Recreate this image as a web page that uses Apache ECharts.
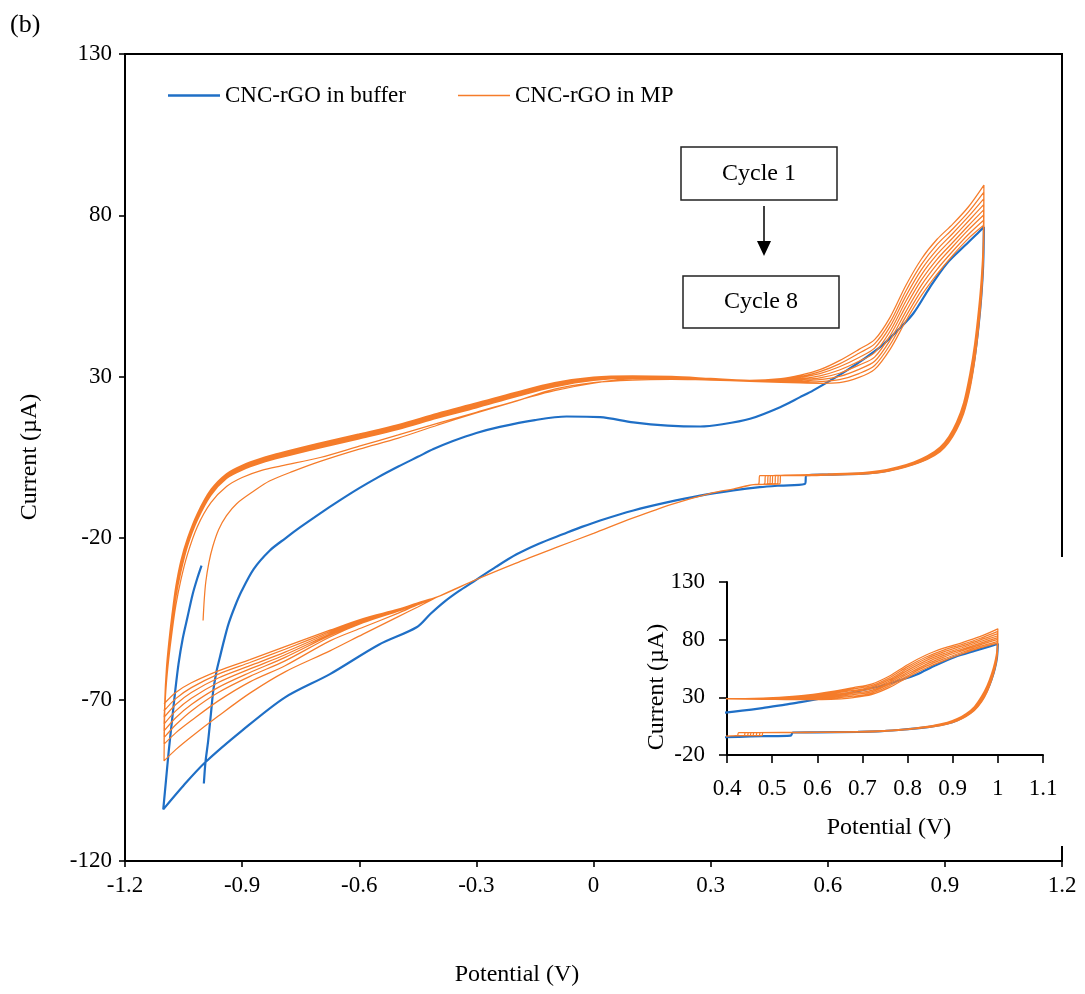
<!DOCTYPE html>
<html>
<head>
<meta charset="utf-8">
<script src="https://cdn.jsdelivr.net/npm/echarts@6/dist/echarts.min.js"></script>
<style>
  html, body { margin: 0; padding: 0; background: #fff; }
  #chart { width: 1085px; height: 994px; }
</style>
</head>
<body>
<div id="chart"></div>
<script>
// ---------- tick labels ----------
const potentialTicks = ['-1.2', '-0.9', '-0.6', '-0.3', '0', '0.3', '0.6', '0.9', '1.2'];
const currentTicks = ['-120', '-70', '-20', '30', '80', '130'];
const insetPotentialTicks = ['0.4', '0.5', '0.6', '0.7', '0.8', '0.9', '1', '1.1'];
const insetCurrentTicks = ['-20', '30', '80', '130'];

// ---------- CNC-rGO in buffer: one scan [potential V, current µA] ----------
// anodic sweep from -1.0 V to +1.0 V
const bufferForward = [
  [-0.998, -96], [-0.994, -89.5], [-0.987, -82.8], [-0.980, -74.5], [-0.974, -67.3],
  [-0.966, -61.5], [-0.957, -56.9], [-0.946, -51.5], [-0.935, -46.6], [-0.918, -41],
  [-0.901, -36.3], [-0.870, -29.5], [-0.829, -23.8], [-0.790, -20.1], [-0.751, -16.6],
  [-0.700, -12.3], [-0.650, -8.3], [-0.600, -4.5], [-0.550, -1.0], [-0.500, 2.2],
  [-0.450, 5.2], [-0.410, 7.6], [-0.360, 10.1], [-0.300, 12.6], [-0.240, 14.5],
  [-0.150, 16.6], [-0.069, 17.7], [0.017, 17.5], [0.102, 15.9], [0.190, 14.9],
  [0.273, 14.6], [0.330, 15.3], [0.401, 17.0], [0.478, 20.6], [0.529, 23.7],
  [0.563, 25.8], [0.649, 32.0], [0.734, 39.2], [0.780, 44.5], [0.819, 49.6],
  [0.862, 57.8], [0.905, 65.1], [0.950, 70.5], [0.980, 74], [1.000, 76.4]
];
// cathodic sweep back to -1.1 V
const bufferReverse = [
  [0.998, 64.5], [0.993, 54.5], [0.986, 45.5], [0.976, 35.8], [0.964, 27.6], [0.948, 19.7],
  [0.930, 14.4], [0.910, 10.2], [0.888, 7.3], [0.855, 4.8], [0.820, 3.1], [0.780, 1.7],
  [0.734, 0.5], [0.690, 0.0], [0.600, -0.3], [0.546, -0.5], [0.541, -3.2], [0.478, -3.7],
  [0.426, -4.2], [0.358, -5.2], [0.273, -6.8], [0.188, -8.9], [0.102, -11.4], [0.017, -14.5],
  [-0.030, -16.5], [-0.077, -18.7], [-0.140, -21.7], [-0.197, -25.0], [-0.250, -28.9],
  [-0.308, -33.5], [-0.345, -36.4], [-0.380, -39.5], [-0.418, -43.5], [-0.453, -47.6],
  [-0.550, -53.0], [-0.675, -62.1], [-0.790, -69.3], [-0.901, -79.7], [-0.995, -89.5],
  [-1.050, -96.6], [-1.102, -104]
];
// closing sweep from -1.1 V up to -1.0 V
const bufferReturn = [
  [-1.095, -95], [-1.088, -86], [-1.080, -77], [-1.072, -68], [-1.063, -59],
  [-1.052, -51], [-1.040, -44.5], [-1.027, -37.5], [-1.015, -32.5], [-1.004, -28.5]
];

// ---------- CNC-rGO in MP: eight consecutive cycles ----------
// cycle 1 opens at -1.0 V
const mpOpening = [
  [-1.0, -45.5], [-0.997, -39], [-0.993, -33.5], [-0.985, -27.5], [-0.975, -22.5],
  [-0.96, -17.3], [-0.94, -13], [-0.914, -9.3], [-0.87, -5.4], [-0.83, -2.3],
  [-0.77, 0.7], [-0.7, 3.8], [-0.6, 7.6], [-0.5, 11.0], [-0.4, 15.0], [-0.3, 18.8],
  [-0.2, 22.4], [-0.1, 26.2], [0, 28.2], [0.1, 29.0], [0.2, 29.2], [0.3, 29.0], [0.4, 28.9]
];
// anodic rise from -1.1 V, cycles 2 to 8
const mpRisePotential = [-1.098, -1.094, -1.088, -1.08, -1.07, -1.057, -1.04, -1.015, -0.98, -0.94,
  -0.9, -0.85, -0.8, -0.7, -0.6, -0.5, -0.4, -0.3, -0.2, -0.1, 0, 0.1, 0.2, 0.3, 0.4];
const mpRiseCurrent = [
  [-73, -65, -57.5, -49.5, -41, -33, -25, -16.5, -9, -4, -1.2, 1.0, 2.4, 5.0, 8.5, 12.0, 15.6, 19.0, 22.5, 25.7, 28.0, 29.4, 29.6, 29.2, 28.7],
  [-70, -60.5, -52.5, -44, -35, -27, -20, -12.4, -4.9, 0.0, 2.6, 4.8, 6.5, 9.5, 12.3, 15.2, 18.7, 21.9, 25.2, 28.2, 29.9, 30.3, 30.1, 29.5, 28.9],
  [-70.5, -61.3, -53.3, -44.8, -35.8, -27.8, -20.5, -12.8, -5.2, -0.3, 2.3, 4.5, 6.2, 9.2, 12.0, 14.9, 18.4, 21.6, 25.0, 28.0, 29.7, 30.2, 30.0, 29.4, 28.9],
  [-71, -62, -54, -45.5, -36.5, -28.5, -21, -13.2, -5.6, -0.6, 2.0, 4.2, 5.9, 8.9, 11.7, 14.6, 18.1, 21.3, 24.7, 27.7, 29.5, 30.0, 29.8, 29.3, 28.8],
  [-71.5, -62.7, -54.7, -46.2, -37.2, -29.2, -21.5, -13.6, -6.0, -0.9, 1.7, 3.9, 5.6, 8.6, 11.4, 14.3, 17.8, 21.0, 24.4, 27.4, 29.3, 29.8, 29.7, 29.2, 28.8],
  [-72, -63.3, -55.3, -46.8, -37.8, -29.8, -22, -14, -6.3, -1.2, 1.4, 3.6, 5.3, 8.3, 11.1, 14.0, 17.5, 20.7, 24.1, 27.2, 29.1, 29.7, 29.6, 29.1, 28.7],
  [-72.5, -64, -56, -47.5, -38.5, -30.5, -22.5, -14.5, -6.7, -1.5, 1.1, 3.3, 5.0, 8.0, 10.8, 13.7, 17.2, 20.4, 23.8, 26.9, 28.9, 29.6, 29.5, 29.0, 28.6]
];
// oxidation wave up to the +1.0 V turn, cycles 1 to 8
const mpUpperPotential = [0.48, 0.53, 0.58, 0.63, 0.68, 0.72, 0.76, 0.8, 0.84, 0.88, 0.92, 0.96, 1.0];
const mpUpperCurrent = [
  [29.4, 30.5, 32.2, 35.0, 38.5, 41.5, 48.5, 58.3, 66.5, 72.6, 77.3, 82.6, 89.4],
  [29.2, 30.1, 31.6, 34.0, 37.3, 40.2, 47.0, 56.6, 64.8, 71.0, 75.8, 81.0, 87.2],
  [29.0, 29.8, 31.0, 33.1, 36.0, 38.9, 45.6, 55.0, 63.2, 69.4, 74.4, 79.6, 85.2],
  [28.8, 29.4, 30.3, 32.1, 34.8, 37.5, 44.2, 53.4, 61.6, 67.9, 73.0, 78.2, 83.4],
  [28.7, 29.1, 29.7, 31.1, 33.6, 36.1, 42.8, 51.8, 60.0, 66.4, 71.6, 76.8, 81.8],
  [28.5, 28.7, 29.1, 30.1, 32.3, 34.8, 41.4, 50.2, 58.4, 64.9, 70.3, 75.5, 80.2],
  [28.4, 28.4, 28.5, 29.1, 31.0, 33.5, 40.0, 48.7, 56.8, 63.3, 68.9, 74.1, 78.6],
  [28.3, 28.1, 28.0, 28.2, 29.8, 32.3, 38.6, 47.3, 55.2, 61.8, 67.6, 72.8, 77.0]
];
// current drop after the turn
const mpDropPotential = [0.998, 0.993, 0.986, 0.976, 0.964, 0.948, 0.93, 0.91, 0.888, 0.855, 0.82, 0.78, 0.734, 0.69, 0.6, 0.55];
const mpDropCurrent = [
  [71, 60, 50.5, 40, 31, 22, 16, 11.5, 8.3, 5.5, 3.6, 2.1, 0.9, 0.35, -0.1, -0.3],
  [69.5, 58.8, 49.4, 39.0, 30.2, 21.4, 15.6, 11.2, 8.0, 5.3, 3.4, 2.0, 0.8, 0.25, -0.15, -0.35],
  [68.3, 57.8, 48.5, 38.2, 29.5, 20.8, 15.2, 10.9, 7.8, 5.1, 3.3, 1.9, 0.7, 0.15, -0.2, -0.4],
  [67.2, 56.9, 47.6, 37.4, 28.8, 20.3, 14.8, 10.6, 7.6, 5.0, 3.2, 1.8, 0.6, 0.1, -0.25, -0.45],
  [66.2, 56.0, 46.8, 36.6, 28.1, 19.8, 14.5, 10.3, 7.4, 4.8, 3.1, 1.7, 0.5, 0.0, -0.3, -0.5],
  [65.3, 55.2, 46.0, 35.9, 27.4, 19.3, 14.1, 10.0, 7.2, 4.7, 3.0, 1.6, 0.4, -0.05, -0.35, -0.55],
  [64.5, 54.5, 45.3, 35.2, 26.7, 18.9, 13.8, 9.8, 7.0, 4.5, 2.9, 1.5, 0.35, -0.1, -0.4, -0.6],
  [63.8, 53.8, 44.6, 34.5, 26.0, 18.5, 13.5, 9.6, 6.8, 4.4, 2.8, 1.4, 0.3, -0.15, -0.45, -0.65]
];
// small current step on the cathodic sweep
const mpStepStart = [0.48, 0.474, 0.467, 0.46, 0.454, 0.448, 0.441, 0.426];
const mpStepEnd = [0.477, 0.471, 0.464, 0.457, 0.451, 0.445, 0.438, 0.423];
const mpStepCurrent = [-0.6, -3.2];
// shared cathodic sweep
const mpMidPotential = [0.41, 0.36, 0.3, 0.2, 0.1, 0.0, -0.1, -0.2, -0.3, -0.4];
const mpMidCurrent = [-3.4, -4.7, -6.1, -9.5, -13.8, -18.5, -23.1, -27.8, -32.8, -38.2];
// reduction tail down to -1.1 V, cycles 1 to 8
const mpTailPotential = [-0.45, -0.5, -0.59, -0.675, -0.79, -0.88, -0.961, -1.03, -1.07, -1.1];
const mpTailCurrent = [
  [-41.3, -44.3, -49.7, -54.9, -61.4, -68.0, -75.1, -81.5, -85.5, -89.0],
  [-40.6, -43.2, -47.6, -51.8, -59.5, -64.5, -70.4, -76.5, -80.3, -83.8],
  [-40.5, -42.6, -46.2, -50.6, -58.0, -62.8, -67.8, -73.5, -77.8, -81.8],
  [-40.4, -42.4, -45.9, -50.1, -56.9, -61.6, -66.2, -71.5, -75.6, -79.7],
  [-40.3, -42.3, -45.6, -49.7, -56.1, -60.5, -64.7, -69.6, -73.5, -77.6],
  [-40.2, -42.2, -45.3, -49.3, -55.3, -59.5, -63.3, -67.8, -71.5, -75.5],
  [-40.1, -42.1, -45.1, -48.9, -54.4, -58.5, -62.1, -66.3, -69.7, -73.5],
  [-40.0, -42.0, -44.9, -48.5, -53.6, -57.6, -61.1, -64.8, -67.8, -71.3]
];

// ---------- assemble scans ----------
const bufferScan = bufferForward.concat(bufferReverse, bufferReturn);

const mpScan = [];
for (let c = 0; c < mpUpperCurrent.length; c++) {
  if (c === 0) {
    mpOpening.forEach(p => mpScan.push(p));
  } else {
    mpRisePotential.forEach((v, i) => mpScan.push([v, mpRiseCurrent[c - 1][i]]));
  }
  mpUpperPotential.forEach((v, i) => mpScan.push([v, mpUpperCurrent[c][i]]));
  mpDropPotential.forEach((v, i) => mpScan.push([v, mpDropCurrent[c][i]]));
  mpScan.push([mpStepStart[c], mpStepCurrent[0]]);
  mpScan.push([mpStepEnd[c], mpStepCurrent[1]]);
  mpMidPotential.forEach((v, i) => mpScan.push([v, mpMidCurrent[i]]));
  mpTailPotential.forEach((v, i) => mpScan.push([v, mpTailCurrent[c][i]]));
}

// ---------- styling ----------
const FONT = '"Liberation Serif", "Times New Roman", serif';
const BLUE = '#1f6fc6';
const ORANGE = '#f57c2a';
const LABEL = { fontFamily: FONT, fontSize: 23, color: '#000' };
const TITLE_FONT = '24px ' + FONT;

function tickFormatter(labels, min, step) {
  return v => labels[Math.round((v - min) / step)];
}

function valueAxis(gridIndex, min, max, step, labels, margin, tickLen, z) {
  return {
    type: 'value', gridIndex, min, max, interval: step, z,
    axisLine: { show: true, onZero: false, lineStyle: { color: '#000', width: 2 } },
    axisTick: { show: true, inside: false, length: tickLen, lineStyle: { color: '#000', width: 1.6 } },
    axisLabel: Object.assign({ margin, showMinLabel: true, showMaxLabel: true,
      formatter: tickFormatter(labels, min, step) }, LABEL),
    splitLine: { show: false }
  };
}

function scanSeries(name, data, color, width, axisIndex, z) {
  return {
    type: 'line', name, data,
    xAxisIndex: axisIndex, yAxisIndex: axisIndex,
    symbol: 'none', showSymbol: false, smooth: 0.3, clip: true, silent: true,
    lineStyle: { color, width }, itemStyle: { color }, z
  };
}

const chart = echarts.init(document.getElementById('chart'), null, { renderer: 'canvas' });

chart.setOption({
  animation: false,
  backgroundColor: '#fff',
  grid: [
    { left: 125, top: 54, width: 937, height: 807, show: true, borderColor: '#000', borderWidth: 2,
      backgroundColor: 'transparent', containLabel: false, outerBoundsMode: 'none' },
    { left: 727, top: 582, width: 316, height: 173, show: false, containLabel: false, outerBoundsMode: 'none' }
  ],
  xAxis: [
    valueAxis(0, -1.2, 1.2, 0.3, potentialTicks, 13, 6, 0),
    valueAxis(1, 0.4, 1.1, 0.1, insetPotentialTicks, 22, 8, 11)
  ],
  yAxis: [
    valueAxis(0, -120, 130, 50, currentTicks, 13, 6, 0),
    valueAxis(1, -20, 130, 50, insetCurrentTicks, 22, 8, 11)
  ],
  legend: {
    left: 168, top: 84, padding: 0, itemWidth: 52, itemHeight: 20, itemGap: 52,
    selectedMode: false,
    textStyle: LABEL,
    data: [
      { name: 'CNC-rGO in buffer', icon: 'path://M0,0H52V2.4H0Z' },
      { name: 'CNC-rGO in MP', icon: 'path://M0,0H52V1.3H0Z' }
    ]
  },
  series: [
    scanSeries('CNC-rGO in buffer', bufferScan, BLUE, 2.2, 0, 2),
    scanSeries('CNC-rGO in MP', mpScan, ORANGE, 1.25, 0, 3),
    scanSeries('CNC-rGO in buffer', bufferScan, BLUE, 2.2, 1, 12),
    scanSeries('CNC-rGO in MP', mpScan, ORANGE, 1.25, 1, 13)
  ],
  graphic: [
    // white panel behind the inset
    { type: 'rect', z: 10, silent: true, shape: { x: 630, y: 557, width: 455, height: 289 }, style: { fill: '#fff' } },
    { type: 'text', z: 20, x: 10, y: 12, style: { text: '(b)', font: '26px ' + FONT, fill: '#000' } },
    { type: 'text', z: 20, x: 30, y: 457, rotation: Math.PI / 2,
      style: { text: 'Current (µA)', font: TITLE_FONT, fill: '#000', align: 'center', verticalAlign: 'middle' } },
    { type: 'text', z: 20, x: 517, y: 975,
      style: { text: 'Potential (V)', font: TITLE_FONT, fill: '#000', align: 'center', verticalAlign: 'middle' } },
    { type: 'text', z: 20, x: 657, y: 687, rotation: Math.PI / 2,
      style: { text: 'Current (µA)', font: TITLE_FONT, fill: '#000', align: 'center', verticalAlign: 'middle' } },
    { type: 'text', z: 20, x: 889, y: 828,
      style: { text: 'Potential (V)', font: TITLE_FONT, fill: '#000', align: 'center', verticalAlign: 'middle' } },
    // cycle annotation
    { type: 'rect', z: 20, shape: { x: 681, y: 147, width: 156, height: 53 },
      style: { fill: '#fff', stroke: '#222', lineWidth: 1.5 } },
    { type: 'text', z: 21, x: 759, y: 174,
      style: { text: 'Cycle 1', font: TITLE_FONT, fill: '#000', align: 'center', verticalAlign: 'middle' } },
    { type: 'line', z: 20, shape: { x1: 764, y1: 206, x2: 764, y2: 243 }, style: { stroke: '#000', lineWidth: 1.5 } },
    { type: 'polygon', z: 20, shape: { points: [[757, 241], [771, 241], [764, 256]] }, style: { fill: '#000' } },
    { type: 'rect', z: 20, shape: { x: 683, y: 276, width: 156, height: 52 },
      style: { fill: '#fff', stroke: '#222', lineWidth: 1.5 } },
    { type: 'text', z: 21, x: 761, y: 302,
      style: { text: 'Cycle 8', font: TITLE_FONT, fill: '#000', align: 'center', verticalAlign: 'middle' } }
  ]
});
</script>
</body>
</html>
